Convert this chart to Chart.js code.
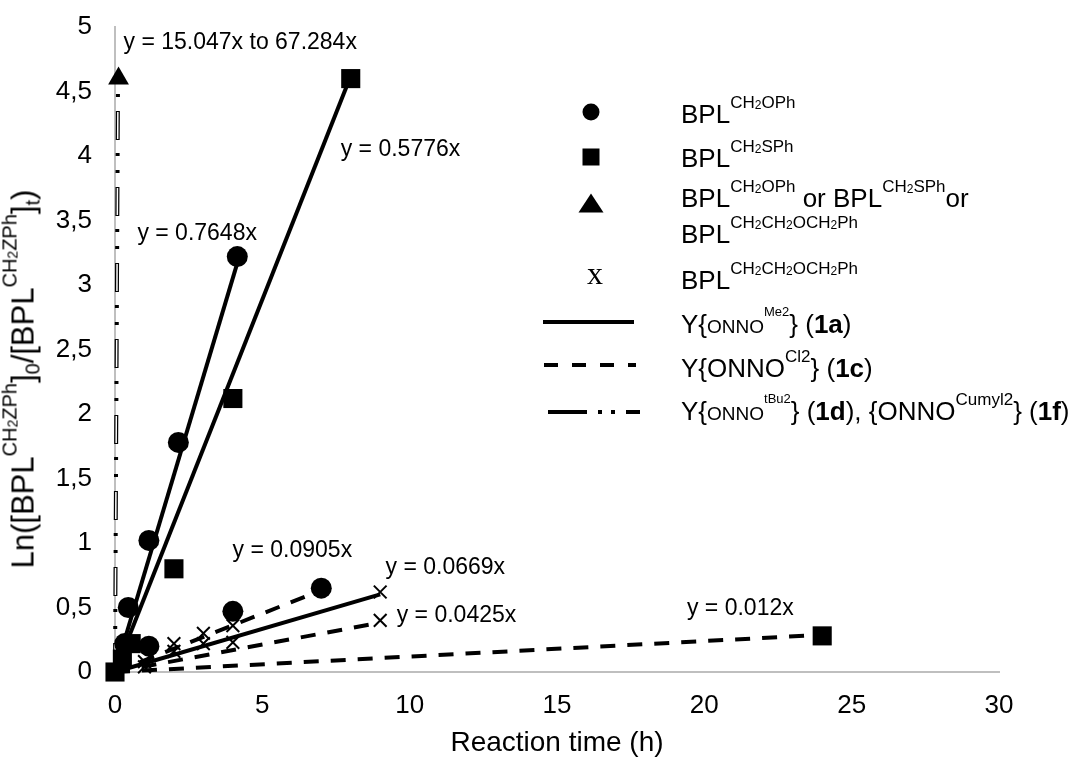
<!DOCTYPE html>
<html>
<head>
<meta charset="utf-8">
<title>Ln([BPL]0/[BPL]t) vs reaction time</title>
<script src="https://cdn.jsdelivr.net/npm/chart.js@4.4.1/dist/chart.umd.min.js"></script>
<style>
body { margin: 0; background: #fff; }
.wrap { position: relative; width: 1083px; height: 760px; overflow: hidden; font-family: 'Liberation Sans', Arial, sans-serif; color: #000; }
#chart { position: absolute; left: 0; top: 0; }
.row { position: absolute; left: 681px; font-size: 26px; line-height: 30px; white-space: nowrap; }
.row sup { font-size: 17px; vertical-align: baseline; position: relative; top: -15px; }
.row sup sub { font-size: 12px; vertical-align: baseline; position: relative; top: 1px; }
.row sup.sm { font-size: 13px; top: -17px; }
.row .sc { font-size: 19px; }
#ytitle { position: absolute; left: 26px; top: 379px; transform: translate(-50%, -50%) rotate(-90deg); font-size: 31px; line-height: 36px; white-space: nowrap; }
#ytitle sup { font-size: 20px; vertical-align: baseline; position: relative; top: -17px; }
#ytitle sup sub { font-size: 14px; vertical-align: baseline; position: relative; top: 1px; }
#ytitle > sub { font-size: 20px; vertical-align: baseline; position: relative; top: 6px; }
</style>
</head>
<body>
<div class="wrap">
  <canvas id="chart" width="1083" height="760"></canvas>
  <div id="ytitle">Ln([BPL<sup>CH<sub>2</sub>ZPh</sup>]<sub>0</sub>/[BPL<sup>CH<sub>2</sub>ZPh</sup>]<sub>t</sub>)</div>
  <div class="row" style="top:99px">BPL<sup>CH<sub>2</sub>OPh</sup></div>
  <div class="row" style="top:143px">BPL<sup>CH<sub>2</sub>SPh</sup></div>
  <div class="row" style="top:183px">BPL<sup>CH<sub>2</sub>OPh</sup> or BPL<sup>CH<sub>2</sub>SPh</sup>or</div>
  <div class="row" style="top:219px">BPL<sup>CH<sub>2</sub>CH<sub>2</sub>OCH<sub>2</sub>Ph</sup></div>
  <div class="row" style="top:265px">BPL<sup>CH<sub>2</sub>CH<sub>2</sub>OCH<sub>2</sub>Ph</sup></div>
  <div class="row" style="top:309px">Y{<span class="sc">ONNO</span><sup class="sm">Me2</sup>} (<b>1a</b>)</div>
  <div class="row" style="top:353px">Y{ONNO<sup>Cl2</sup>} (<b>1c</b>)</div>
  <div class="row" style="top:396px">Y{<span class="sc">ONNO</span><sup class="sm">tBu2</sup>} (<b>1d</b>), {ONNO<sup>Cumyl2</sup>} (<b>1f</b>)</div>
</div>
<script>
Chart.defaults.font.family = "'Liberation Sans', Arial, sans-serif"
Chart.defaults.color = '#000'

// BPL^CH2OPh : 1a (solid) and 1c (dashed)
const ophTimeA = [0.33, 0.45, 1.15, 2.15, 4.15]
const ophLnA = [0.22, 0.5, 1.02, 1.78, 3.22]
const ophTimeC = [1.15, 4, 7]
const ophLnC = [0.2, 0.47, 0.65]

// BPL^CH2SPh : 1a (solid) and 1c (dashed)
const sphTimeA = [0, 0.25, 0.55, 2, 4, 8]
const sphLnA = [0, 0.1, 0.22, 0.8, 2.12, 4.6]
const sphTimeC = [24]
const sphLnC = [0.28]

// 1d / 1f, any of the monomers
const fastTime = [0.12]
const fastLn = [4.6]

// BPL^CH2CH2OCH2Ph : 1a (solid) and 1c (dashed)
const bnTime = [1, 2, 3, 4, 9]
const bnLnA = [0.08, 0.22, 0.3, 0.36, 0.62]
const bnLnC = [0.04, 0.16, 0.22, 0.23, 0.4]

// trendlines through the origin, end points
const fitOphA = [[0, 4.15], [0, 3.17]]
const fitSphA = [[0, 8], [0, 4.62]]
const fitOphC = [[0, 7], [0, 0.634]]
const fitBnA = [[0, 9], [0, 0.602]]
const fitBnC = [[0, 9], [0, 0.383]]
const fitSphC = [[0, 24], [0, 0.288]]
const fitFast = [[0, 0.1], [0, 4.5]]

// axis ticks
const xTicks = [0, 5, 10, 15, 20, 25, 30]
const yTicks = [0, 0.5, 1, 1.5, 2, 2.5, 3, 3.5, 4, 4.5, 5]

// trendline equations: text, x, y (left / middle of the text)
const eqLabels = [
    ['y = 15.047x to 67.284x', 0.29, 4.88],
    ['y = 0.7648x', 0.76, 3.4],
    ['y = 0.5776x', 7.66, 4.05],
    ['y = 0.0905x', 3.99, 0.94],
    ['y = 0.0669x', 9.18, 0.81],
    ['y = 0.0425x', 9.56, 0.44],
    ['y = 0.012x', 19.41, 0.49]
]

function pts(xs, ys) {
    return xs.map(function (x, i) { return { x: x, y: ys[i] } })
}
function markers(xs, ys, style, r) {
    return {
        data: pts(xs, ys),
        showLine: false,
        pointStyle: style,
        pointRadius: r,
        pointBackgroundColor: '#000',
        pointBorderColor: '#000',
        pointBorderWidth: style === 'crossRot' ? 2 : 0,
        clip: false
    }
}
function fit(line, width, dash, color) {
    return {
        data: pts(line[0], line[1]),
        showLine: true,
        pointRadius: 0,
        borderColor: color || '#000',
        borderWidth: width,
        borderDash: dash || [],
        clip: false
    }
}

const extras = {
    id: 'extras',
    afterDraw(chart) {
        const ctx = chart.ctx
        const xs = chart.scales.x
        const ys = chart.scales.y
        ctx.save()
        ctx.fillStyle = '#000'
        ctx.strokeStyle = '#000'
        ctx.font = "23px 'Liberation Sans', Arial, sans-serif"
        ctx.textBaseline = 'middle'
        ctx.textAlign = 'left'
        eqLabels.forEach(function (l) {
            ctx.fillText(l[0], xs.getPixelForValue(l[1]), ys.getPixelForValue(l[2]))
        })

        // legend symbols
        ctx.beginPath()
        ctx.arc(591, 112, 8.5, 0, Math.PI * 2)
        ctx.fill()
        ctx.fillRect(582.5, 148.5, 17, 17)
        ctx.beginPath()
        ctx.moveTo(591, 193.5)
        ctx.lineTo(603.5, 212.5)
        ctx.lineTo(578.5, 212.5)
        ctx.closePath()
        ctx.fill()
        ctx.font = "32px 'Liberation Serif', 'Times New Roman', serif"
        ctx.textAlign = 'center'
        ctx.fillText('x', 595, 276)

        ctx.lineWidth = 4
        ctx.beginPath()
        ctx.moveTo(543, 322)
        ctx.lineTo(634, 322)
        ctx.stroke()
        ctx.setLineDash([14, 14])
        ctx.beginPath()
        ctx.moveTo(544, 365)
        ctx.lineTo(636, 365)
        ctx.stroke()
        ctx.setLineDash([])
        ;[[548, 587], [598, 602], [611, 615], [626, 640]].forEach(function (s) {
            ctx.beginPath()
            ctx.moveTo(s[0], 412)
            ctx.lineTo(s[1], 412)
            ctx.stroke()
        })
        ctx.restore()
    }
}

new Chart(document.getElementById('chart'), {
    type: 'scatter',
    data: {
        datasets: [
            markers(ophTimeA, ophLnA, 'circle', 10.5),
            markers(ophTimeC, ophLnC, 'circle', 10.5),
            markers(sphTimeA, sphLnA, 'rect', 13.5),
            markers(sphTimeC, sphLnC, 'rect', 13.5),
            markers(fastTime, fastLn, 'triangle', 12),
            markers(bnTime, bnLnA, 'crossRot', 9),
            markers(bnTime, bnLnC, 'crossRot', 9),
            fit(fitFast, 1.5, [0, 1, 27, 48], '#fff'),
            fit(fitFast, 4, [29, 14, 3, 14, 3, 13]),
            fit(fitOphA, 4),
            fit(fitSphA, 4),
            fit(fitBnA, 4),
            fit(fitOphC, 4, [15, 12]),
            fit(fitBnC, 4, [15, 12]),
            fit(fitSphC, 4, [15, 12])
        ]
    },
    options: {
        responsive: false,
        animation: false,
        devicePixelRatio: 1,
        events: [],
        layout: { padding: { top: 27, right: 84, left: 0, bottom: 0 } },
        plugins: {
            legend: { display: false },
            tooltip: { enabled: false }
        },
        scales: {
            x: {
                type: 'linear',
                min: xTicks[0],
                max: xTicks[xTicks.length - 1],
                afterBuildTicks: function (s) { s.ticks = xTicks.map(function (v) { return { value: v } }) },
                ticks: { font: { size: 26 }, padding: 18, maxRotation: 0 },
                grid: { display: false, drawTicks: false },
                border: { color: '#bfbfbf', width: 2 },
                title: { display: true, text: 'Reaction time (h)', font: { size: 28 }, padding: { top: 0, bottom: 0 } },
                afterFit: function (s) { s.height = 88 }
            },
            y: {
                type: 'linear',
                min: yTicks[0],
                max: yTicks[yTicks.length - 1],
                afterBuildTicks: function (s) { s.ticks = yTicks.map(function (v) { return { value: v } }) },
                ticks: {
                    font: { size: 26 },
                    padding: 23,
                    callback: function (v) { return String(v).replace('.', ',') }
                },
                grid: { display: false, drawTicks: false },
                border: { color: '#bfbfbf', width: 2 },
                afterFit: function (s) {
                    s.width = 115
                    s.paddingTop = 0
                    s.paddingBottom = 0
                }
            }
        }
    },
    plugins: [extras]
})
</script>
</body>
</html>
